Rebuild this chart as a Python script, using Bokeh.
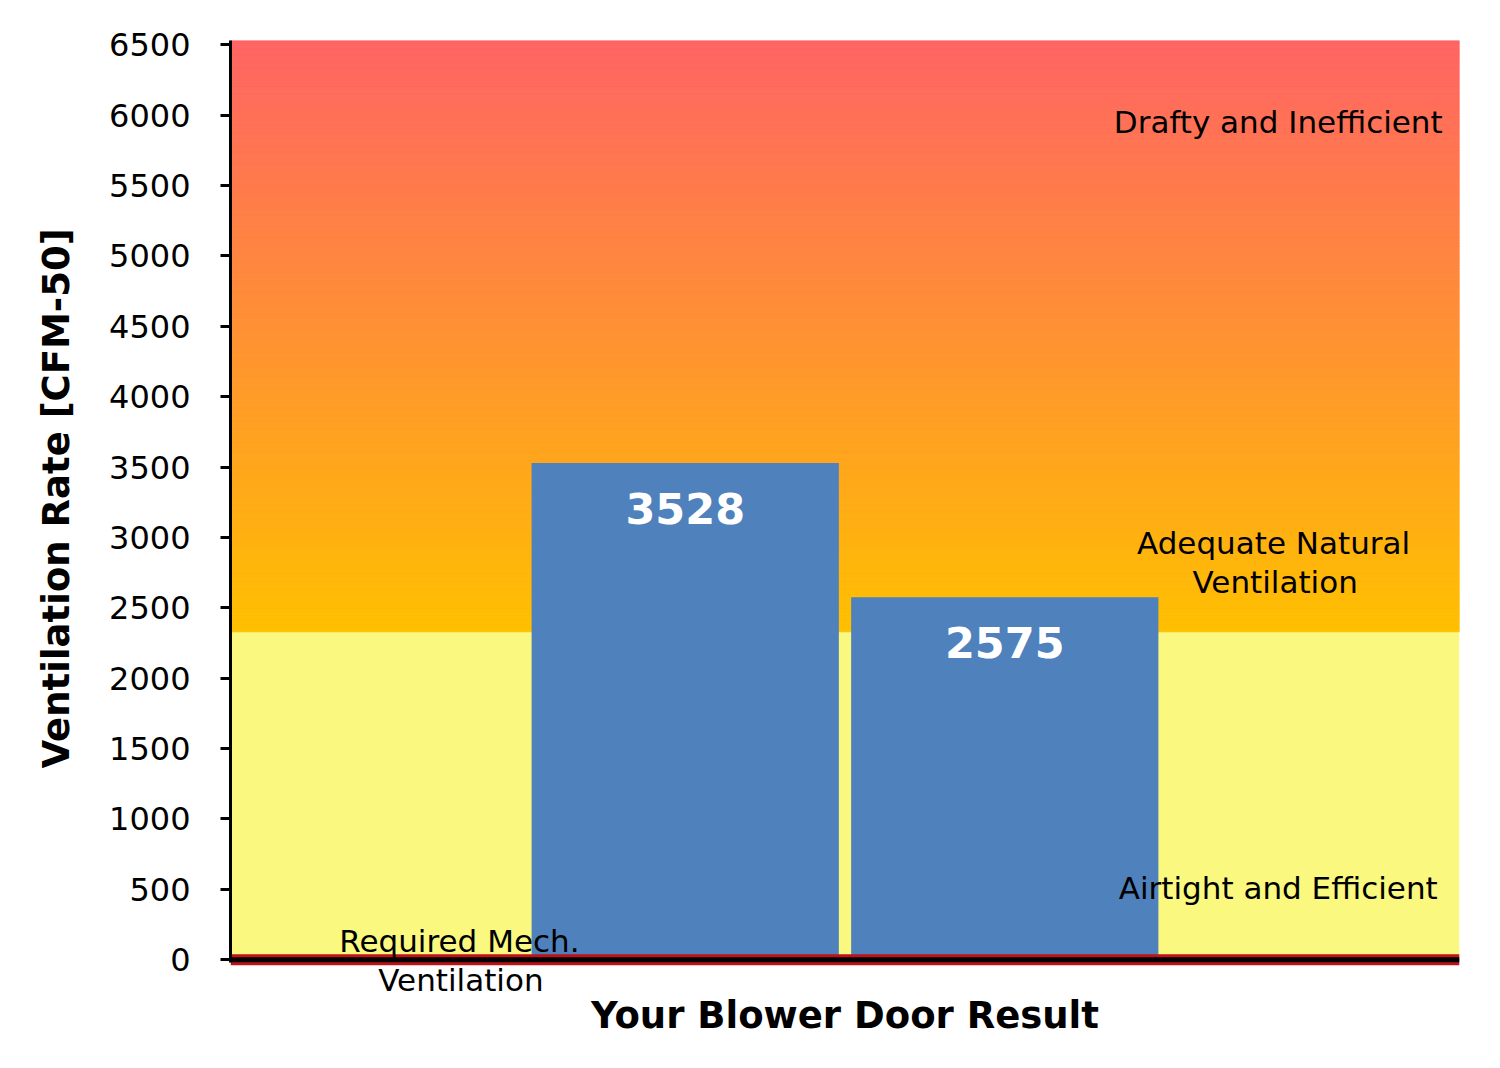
from bokeh.plotting import figure
from bokeh.models import Range1d, FixedTicker, Title
from bokeh.core.properties import value
from bokeh.embed import file_html
from bokeh.resources import INLINE

# ---- data ----
bar_values = [3528, 2575]
bar_labels = ["3528", "2575"]
bar_x = [1.48, 2.52]
y_ticks = [0, 500, 1000, 1500, 2000, 2500, 3000, 3500, 4000, 4500, 5000, 5500, 6000, 6500]
zone_airtight_top = 2330
zone_top = 6530
required_mech = 0
zone_lines = ["Drafty and Inefficient", "Adequate Natural", "Ventilation", "Airtight and Efficient",
              "Required Mech.", "Ventilation"]
zone_line_x = [3.41, 3.395, 3.40, 3.41, 0.745, 0.75]
zone_line_y = [5950, 2963, 2686, 509, 133, -144]
y_title = "Ventilation Rate [CFM-50]"
x_title = "Your Blower Door Result"

FONT = "DejaVu Sans"

p = figure(width=1492, height=1060, output_backend="svg", toolbar_location=None,
           x_range=Range1d(0, 4), y_range=Range1d(-240, zone_top),
           min_border_left=230, min_border_right=33, min_border_top=40, min_border_bottom=67)
p.outline_line_color = None
p.background_fill_color = "white"
p.border_fill_color = "white"
p.xgrid.visible = False
p.ygrid.visible = False

# background zones
p.quad(left=0, right=4, bottom=0, top=zone_airtight_top, fill_color="#FAF87E", line_color=None)

c0 = (255, 192, 0)
c1 = (255, 100, 100)
steps = 210
span = zone_top - zone_airtight_top
bots, tops, cols = [], [], []
for i in range(steps):
    b = zone_airtight_top + span * i / steps
    t = zone_airtight_top + span * (i + 1) / steps
    f = (i + 0.5) / steps
    r = round(c0[0] + (c1[0] - c0[0]) * f)
    g = round(c0[1] + (c1[1] - c0[1]) * f)
    bl = round(c0[2] + (c1[2] - c0[2]) * f)
    bots.append(b)
    tops.append(t)
    cols.append("#%02x%02x%02x" % (r, g, bl))
p.quad(left=0, right=4, bottom=bots, top=tops, fill_color=cols, line_color=cols, line_width=1)

# bars
p.vbar(x=bar_x, top=bar_values, bottom=0, width=1.0, fill_color="#4F81BD", line_color=None)

# required mech. ventilation line + x axis line
p.line(x=[0, 4], y=[required_mech, required_mech], line_color="#C0101A", line_width=11)
p.line(x=[0, 4], y=[0, 0], line_color="black", line_width=5)

# bar labels
p.text(x=bar_x, y=bar_values, text=bar_labels, text_color="white", text_align="center",
       text_baseline="middle", y_offset=45, text_font=value(FONT), text_font_style="bold",
       text_font_size="43px")

# zone labels
p.text(x=zone_line_x, y=zone_line_y, text=zone_lines, text_color="black", text_align="center",
       text_baseline="middle", text_font=value(FONT), text_font_size="31px")

# y axis
yax = p.yaxis[0]
yax.ticker = FixedTicker(ticks=y_ticks)
yax.bounds = (-20, zone_top)
yax.axis_line_color = "black"
yax.axis_line_width = 3
yax.major_tick_line_color = "black"
yax.major_tick_line_width = 3
yax.major_tick_out = 10
yax.major_tick_in = 0
yax.minor_tick_line_color = None
yax.major_label_standoff = 30
yax.major_label_text_font = FONT
yax.major_label_text_font_size = "32px"
yax.major_label_text_color = "black"

# y title (as a left title so it can be placed on the value span)
p.add_layout(Title(text=y_title, align="left", offset=225, standoff=58,
                   text_font=FONT, text_font_style="bold", text_font_size="37px",
                   text_color="black"), "left")

# x axis (title only)
xax = p.xaxis[0]
xax.ticker = FixedTicker(ticks=[])
xax.axis_line_color = None
xax.major_tick_line_color = None
xax.minor_tick_line_color = None
xax.major_label_text_font_size = "0px"
xax.axis_label = x_title
xax.axis_label_text_font = FONT
xax.axis_label_text_font_style = "bold"
xax.axis_label_text_font_size = "37px"
xax.axis_label_text_color = "black"
xax.axis_label_standoff = 0

open("out.html", "w").write(file_html(p, INLINE))
